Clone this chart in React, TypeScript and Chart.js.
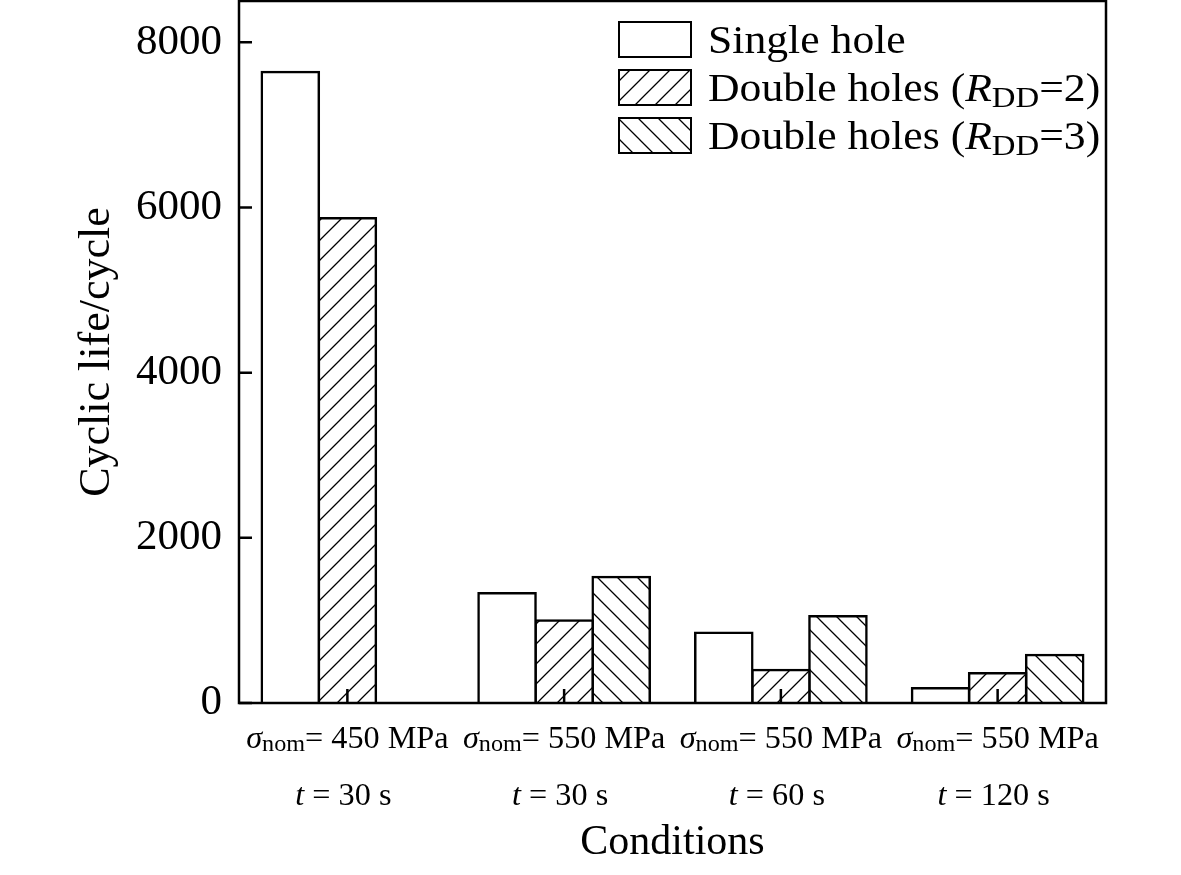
import React, { useEffect, useRef } from 'react';
import { Chart, registerables } from 'chart.js';

Chart.register(...registerables);

const FONT = "'Liberation Serif', 'Times New Roman', Times, serif";

// ---- data ----
const stressLabels = ['450', '550', '550', '550'];
const timeLabels = ['30', '30', '60', '120'];
const singleHole = [7640, 1330, 850, 180];
const doubleHolesR2 = [5870, 1000, 400, 360];
const doubleHolesR3: (number | null)[] = [null, 1525, 1050, 580];
const yTicks = [0, 2000, 4000, 6000, 8000];
const yMax = 8500;
const seriesNames = ['Single hole', 'Double holes (RDD=2)', 'Double holes (RDD=3)'];
const rddValues = ['2', '3'];

type Part = { text: string; italic?: boolean; sub?: boolean };

function makeHatch(dir: 'fwd' | 'back'): CanvasPattern | string {
  const s = 20;
  const c = document.createElement('canvas');
  c.width = s;
  c.height = s;
  const g = c.getContext('2d');
  if (!g) return '#fff';
  g.fillStyle = '#fff';
  g.fillRect(0, 0, s, s);
  g.strokeStyle = '#000';
  g.lineWidth = 1.3;
  g.beginPath();
  if (dir === 'fwd') {
    g.moveTo(-2, s + 2);
    g.lineTo(s + 2, -2);
    g.moveTo(-2, 2);
    g.lineTo(2, -2);
    g.moveTo(s - 2, s + 2);
    g.lineTo(s + 2, s - 2);
  } else {
    g.moveTo(-2, -2);
    g.lineTo(s + 2, s + 2);
    g.moveTo(s - 2, -2);
    g.lineTo(s + 2, 2);
    g.moveTo(-2, s - 2);
    g.lineTo(2, s + 2);
  }
  g.stroke();
  const p = g.createPattern(c, 'repeat');
  return p || '#fff';
}

function drawRich(
  ctx: CanvasRenderingContext2D,
  parts: Part[],
  x: number,
  y: number,
  size: number,
  align: 'left' | 'center',
  sx: number,
  subRatio = 0.72,
  subDrop = 0.14
) {
  const fontFor = (p: Part) =>
    `${p.italic ? 'italic ' : ''}${p.sub ? size * subRatio : size}px ${FONT}`;
  let w = 0;
  const widths = parts.map((p) => {
    ctx.font = fontFor(p);
    const m = ctx.measureText(p.text).width;
    w += m;
    return m;
  });
  ctx.save();
  const start = align === 'center' ? x - (w * sx) / 2 : x;
  ctx.translate(start, y);
  ctx.scale(sx, 1);
  ctx.textBaseline = 'alphabetic';
  ctx.textAlign = 'left';
  ctx.fillStyle = '#000';
  let cx = 0;
  parts.forEach((p, i) => {
    ctx.font = fontFor(p);
    ctx.fillText(p.text, cx, p.sub ? size * subDrop : 0);
    cx += widths[i];
  });
  ctx.restore();
}

export default function App() {
  const ref = useRef<HTMLCanvasElement | null>(null);

  useEffect(() => {
    const canvas = ref.current;
    if (!canvas) return;
    const hatchFwd = makeHatch('fwd');
    const hatchBack = makeHatch('back');
    const fills = ['#ffffff', hatchFwd, hatchBack];

    const decor = {
      id: 'decor',
      afterDraw(chart: any) {
        const ctx: CanvasRenderingContext2D = chart.ctx;
        const { left, right, top, bottom } = chart.chartArea;
        const xs = chart.scales.x;
        const ys = chart.scales.y;
        ctx.save();
        ctx.strokeStyle = '#000';
        ctx.lineWidth = 2.5;
        ctx.strokeRect(left, top, right - left, bottom - top);
        ctx.beginPath();
        yTicks.forEach((v) => {
          const y = ys.getPixelForValue(v);
          ctx.moveTo(left, y);
          ctx.lineTo(left + 13, y);
        });
        stressLabels.forEach((_, i) => {
          const x = xs.getPixelForValue(i);
          ctx.moveTo(x, bottom);
          ctx.lineTo(x, bottom - 14);
        });
        ctx.stroke();
        ctx.restore();

        // x category labels
        stressLabels.forEach((s, i) => {
          const x = xs.getPixelForValue(i);
          drawRich(
            ctx,
            [
              { text: 'σ', italic: true },
              { text: 'nom', sub: true },
              { text: '= ' + s + ' MPa' },
            ],
            x,
            748,
            31,
            'center',
            1.04,
            0.75,
            0.11
          );
          drawRich(
            ctx,
            [{ text: 't', italic: true }, { text: ' = ' + timeLabels[i] + ' s' }],
            x - 4,
            805,
            31,
            'center',
            1.04
          );
        });

        // legend
        const boxX = 619;
        const boxW = 72;
        const boxH = 35;
        const tops = [22, 70, 118];
        seriesNames.forEach((name, i) => {
          const t = tops[i];
          ctx.save();
          ctx.fillStyle = fills[i] as any;
          ctx.fillRect(boxX, t, boxW, boxH);
          ctx.strokeStyle = '#000';
          ctx.lineWidth = 2;
          ctx.strokeRect(boxX, t, boxW, boxH);
          ctx.restore();
          const parts: Part[] =
            i === 0
              ? [{ text: name }]
              : [
                  { text: 'Double holes (' },
                  { text: 'R', italic: true },
                  { text: 'DD', sub: true },
                  { text: '=' + rddValues[i - 1] + ')' },
                ];
          drawRich(ctx, parts, 708, t + 31, 39, 'left', 1.12, 0.75, 0.15);
        });
      },
    };

    const chart = new Chart(canvas, {
      type: 'bar',
      data: {
        labels: stressLabels.map((s, i) => `σnom = ${s} MPa, t = ${timeLabels[i]} s`),
        datasets: [
          { label: seriesNames[0], data: singleHole, backgroundColor: fills[0] as any },
          { label: seriesNames[1], data: doubleHolesR2, backgroundColor: fills[1] as any },
          { label: seriesNames[2], data: doubleHolesR3 as any, backgroundColor: fills[2] as any },
        ].map((d) => ({
          ...d,
          borderColor: '#000',
          borderWidth: 2.5,
          inflateAmount: 1.25,
          categoryPercentage: 0.79,
          barPercentage: 1,
        })),
      },
      options: {
        responsive: false,
        animation: false,
        devicePixelRatio: 1,
        layout: { padding: { top: 1, right: 75, left: 0, bottom: 0 } },
        plugins: { legend: { display: false }, tooltip: { enabled: false } },
        scales: {
          x: {
            grid: { display: false },
            border: { display: false },
            ticks: { display: false },
            title: {
              display: true,
              text: 'Conditions',
              color: '#000',
              font: { family: FONT, size: 42 },
              padding: { top: 0, bottom: 7 },
            },
            afterFit: (s: any) => {
              s.height = 172;
              s.paddingLeft = 0;
              s.paddingRight = 0;
            },
          },
          y: {
            min: 0,
            max: yMax,
            grid: { display: false, drawTicks: false },
            border: { display: false },
            ticks: {
              color: '#000',
              font: { family: FONT, size: 43 },
              padding: 17,
              callback: (v: any) => String(v),
            },
            afterBuildTicks: (s: any) => {
              s.ticks = yTicks.map((v) => ({ value: v }));
            },
            title: {
              display: true,
              text: 'Cyclic life/cycle',
              color: '#000',
              font: { family: FONT, size: 44 },
              padding: { top: 71, bottom: 0 },
            },
            afterFit: (s: any) => {
              s.width = 239;
              s.paddingTop = 0;
              s.paddingBottom = 0;
            },
          },
        },
      },
      plugins: [decor],
    } as any);

    return () => {
      chart.destroy();
    };
  }, []);

  return (
    <div style={{ position: 'absolute', left: 0, top: 0, width: 1181, height: 875, background: '#fff' }}>
      <canvas ref={ref} width={1181} height={875} style={{ display: 'block' }} />
    </div>
  );
}
